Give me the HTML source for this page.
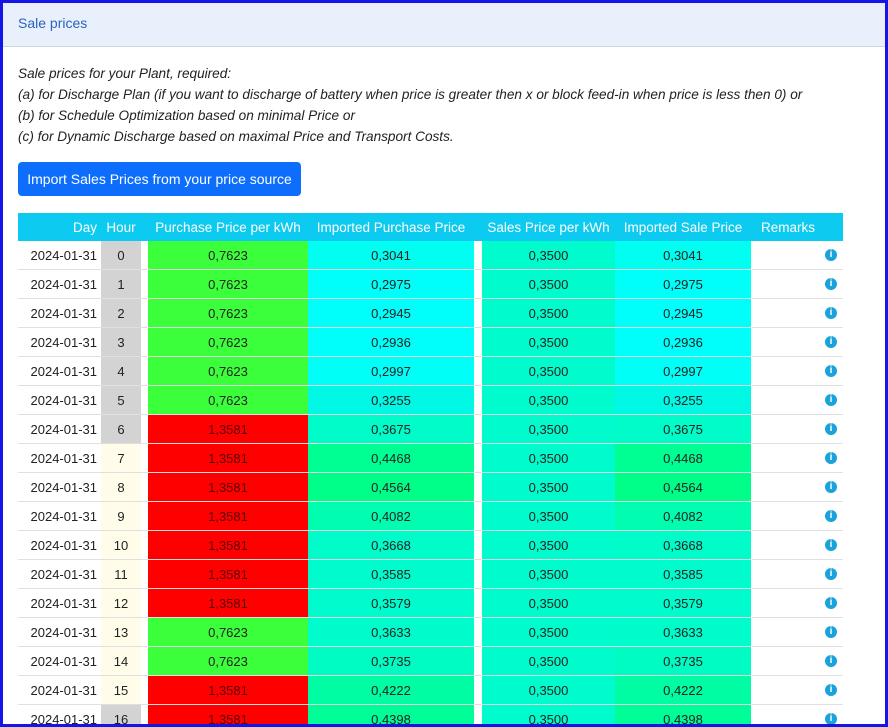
<!DOCTYPE html>
<html><head><style>
body{margin:0;width:888px;height:727px;overflow:hidden;background:#fff;font-family:"Liberation Sans",sans-serif;}
.frame{position:absolute;left:0;top:0;width:882px;height:721px;border:3px solid #1515e8;overflow:hidden;}
.hdr{height:43px;background:#e8f0fc;border-bottom:1px solid #cfd6e0;color:#2a62c0;font-size:14px;line-height:41px;padding-left:15px;}
.txt{position:absolute;left:15px;top:60px;font-style:italic;font-size:13.6px;line-height:21px;color:#222;white-space:nowrap;}
.btn{position:absolute;left:15px;top:159px;width:283px;height:34px;background:#0d6efd;border-radius:4px;color:#fff;font-size:14px;line-height:34px;text-align:center;}
table{position:absolute;left:15px;top:210px;border-collapse:collapse;font-size:13px;color:#222;table-layout:fixed;width:825px;}
th{background:#0dcaf0;color:#fff;font-weight:normal;height:28px;padding:0;font-size:13.5px;}
td{height:28px;padding:0;text-align:center;border-bottom:1px solid #e0e0e0;overflow:hidden;white-space:nowrap;}
td.d{text-align:right;padding-right:4px;}
.i{display:block;width:12px;height:12px;border-radius:50%;background:#1aa3db;color:#fff;font-size:10px;line-height:12px;font-weight:bold;margin-left:74px;text-align:center;}
</style></head><body><div class="frame">
<div class="hdr">Sale prices</div>
<div class="txt">Sale prices for your Plant, required:<br>(a) for Discharge Plan (if you want to discharge of battery when price is greater then x or block feed-in when price is less then 0) or<br>(b) for Schedule Optimization based on minimal Price or<br>(c) for Dynamic Discharge based on maximal Price and Transport Costs.</div>
<div class="btn">Import Sales Prices from your price source</div>
<table id="t"><colgroup><col style="width:83px"><col style="width:40px"><col style="width:7px"><col style="width:160px"><col style="width:166px"><col style="width:8px"><col style="width:133px"><col style="width:136px"><col style="width:92px"></colgroup>
<tr><th style="text-align:right;padding-right:4px">Day</th><th>Hour</th><th></th><th>Purchase Price per kWh</th><th>Imported Purchase Price</th><th></th><th>Sales Price per kWh</th><th>Imported Sale Price</th><th style="text-align:left;padding-left:10px">Remarks</th></tr></table>
</div>
<script>
var d=[[0,0,'0,3041','#00fff0'],[1,0,'0,2975','#00fff8'],[2,0,'0,2945','#00fffa'],[3,0,'0,2936','#00fffa'],[4,0,'0,2997','#00fff6'],[5,0,'0,3255','#00f8e4'],[6,1,'0,3675','#00fcc8'],[7,1,'0,4468','#00ff92'],[8,1,'0,4564','#00ff88'],[9,1,'0,4082','#00fdb0'],[10,1,'0,3668','#00fcc8'],[11,1,'0,3585','#00fccc'],[12,1,'0,3579','#00fccc'],[13,0,'0,3633','#00fcca'],[14,0,'0,3735','#00fcc2'],[15,1,'0,4222','#00fda4'],[16,1,'0,4398','#00fe98']];
var t=document.getElementById('t'),h='';
d.forEach(function(r){var hc=(r[0]<7||r[0]==16)?'#d3d3d3':'#fffdea';
h+='<tr><td class="d">2024-01-31</td><td style="background:'+hc+'">'+r[0]+'</td><td></td><td style="background:'+(r[1]?'#ff0000':'#3cff3c')+';color:'+(r[1]?'#5a0000':'#222')+'">'+(r[1]?'1,3581':'0,7623')+'</td><td style="background:'+r[3]+'">'+r[2]+'</td><td></td><td style="background:#00fccc">0,3500</td><td style="background:'+r[3]+'">'+r[2]+'</td><td style="text-align:left"><span class="i">i</span></td></tr>';});
t.insertAdjacentHTML('beforeend',h);
</script>
</body></html>
